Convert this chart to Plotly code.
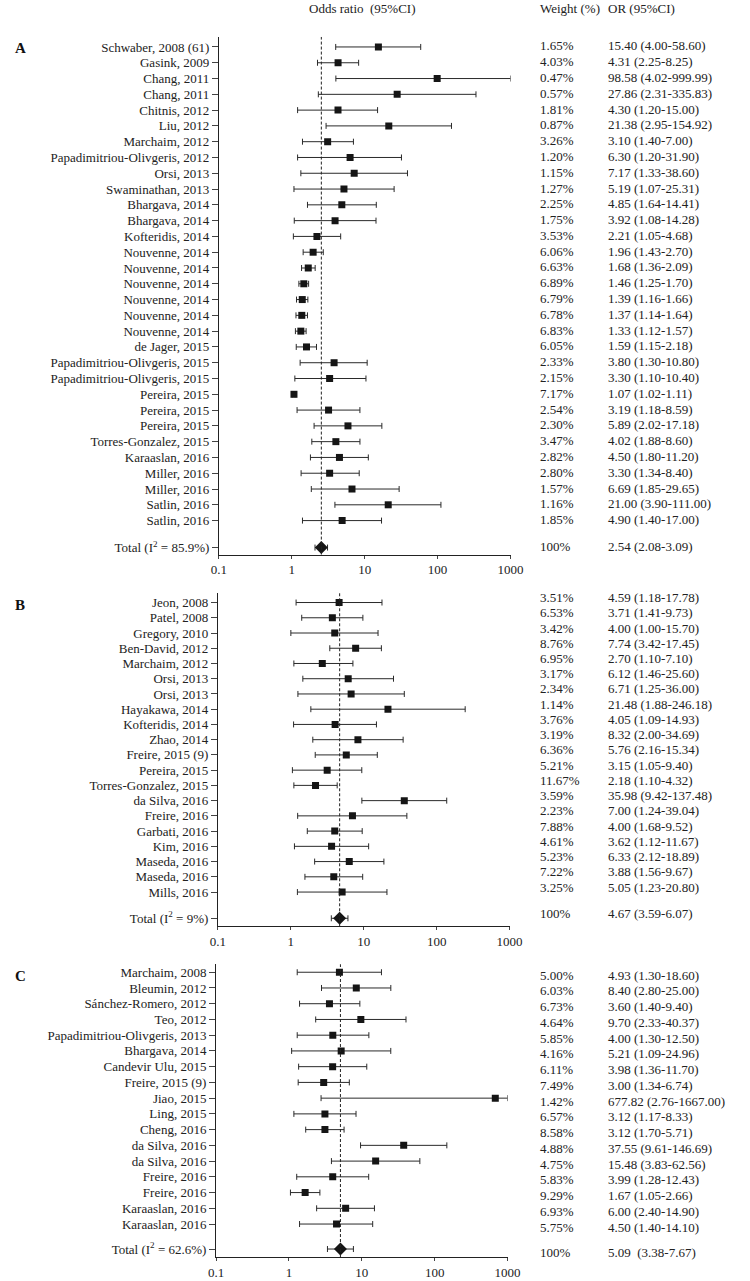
import plotly.graph_objects as go

W, H = 750, 1281
FONT = "Liberation Serif, Times New Roman, serif"

# ── data ─────────────────────────────────────────────────────────────────────
a_study = ["Schwaber, 2008 (61)", "Gasink, 2009", "Chang, 2011", "Chang, 2011", "Chitnis, 2012",
           "Liu, 2012", "Marchaim, 2012", "Papadimitriou-Olivgeris, 2012", "Orsi, 2013",
           "Swaminathan, 2013", "Bhargava, 2014", "Bhargava, 2014", "Kofteridis, 2014",
           "Nouvenne, 2014", "Nouvenne, 2014", "Nouvenne, 2014", "Nouvenne, 2014",
           "Nouvenne, 2014", "Nouvenne, 2014", "de Jager, 2015", "Papadimitriou-Olivgeris, 2015",
           "Papadimitriou-Olivgeris, 2015", "Pereira, 2015", "Pereira, 2015", "Pereira, 2015",
           "Torres-Gonzalez, 2015", "Karaaslan, 2016", "Miller, 2016", "Miller, 2016",
           "Satlin, 2016", "Satlin, 2016"]
a_or = [15.40, 4.31, 98.58, 27.86, 4.30, 21.38, 3.10, 6.30, 7.17, 5.19, 4.85, 3.92, 2.21,
        1.96, 1.68, 1.46, 1.39, 1.37, 1.33, 1.59, 3.80, 3.30, 1.07, 3.19, 5.89, 4.02, 4.50,
        3.30, 6.69, 21.00, 4.90]
a_lo = [4.00, 2.25, 4.02, 2.31, 1.20, 2.95, 1.40, 1.20, 1.33, 1.07, 1.64, 1.08, 1.05,
        1.43, 1.36, 1.25, 1.16, 1.14, 1.12, 1.15, 1.30, 1.10, 1.02, 1.18, 2.02, 1.88, 1.80,
        1.34, 1.85, 3.90, 1.40]
a_hi = [58.60, 8.25, 999.99, 335.83, 15.00, 154.92, 7.00, 31.90, 38.60, 25.31, 14.41, 14.28,
        4.68, 2.70, 2.09, 1.70, 1.66, 1.64, 1.57, 2.18, 10.80, 10.40, 1.11, 8.59, 17.18, 8.60,
        11.20, 8.40, 29.65, 111.00, 17.00]
a_wt = [1.65, 4.03, 0.47, 0.57, 1.81, 0.87, 3.26, 1.20, 1.15, 1.27, 2.25, 1.75, 3.53, 6.06,
        6.63, 6.89, 6.79, 6.78, 6.83, 6.05, 2.33, 2.15, 7.17, 2.54, 2.30, 3.47, 2.82, 2.80,
        1.57, 1.16, 1.85]
a_total = [2.54, 2.08, 3.09]

b_study = ["Jeon, 2008", "Patel, 2008", "Gregory, 2010", "Ben-David, 2012", "Marchaim, 2012",
           "Orsi, 2013", "Orsi, 2013", "Hayakawa, 2014", "Kofteridis, 2014", "Zhao, 2014",
           "Freire, 2015 (9)", "Pereira, 2015", "Torres-Gonzalez, 2015", "da Silva, 2016",
           "Freire, 2016", "Garbati, 2016", "Kim, 2016", "Maseda, 2016", "Maseda, 2016",
           "Mills, 2016"]
b_or = [4.59, 3.71, 4.00, 7.74, 2.70, 6.12, 6.71, 21.48, 4.05, 8.32, 5.76, 3.15, 2.18, 35.98,
        7.00, 4.00, 3.62, 6.33, 3.88, 5.05]
b_lo = [1.18, 1.41, 1.00, 3.42, 1.10, 1.46, 1.25, 1.88, 1.09, 2.00, 2.16, 1.05, 1.10, 9.42,
        1.24, 1.68, 1.12, 2.12, 1.56, 1.23]
b_hi = [17.78, 9.73, 15.70, 17.45, 7.10, 25.60, 36.00, 246.18, 14.93, 34.69, 15.34, 9.40,
        4.32, 137.48, 39.04, 9.52, 11.67, 18.89, 9.67, 20.80]
b_wt = [3.51, 6.53, 3.42, 8.76, 6.95, 3.17, 2.34, 1.14, 3.76, 3.19, 6.36, 5.21, 11.67, 3.59,
        2.23, 7.88, 4.61, 5.23, 7.22, 3.25]
b_total = [4.67, 3.59, 6.07]

c_study = ["Marchaim, 2008", "Bleumin, 2012", "Sánchez-Romero, 2012", "Teo, 2012",
           "Papadimitriou-Olivgeris, 2013", "Bhargava, 2014", "Candevir Ulu, 2015",
           "Freire, 2015 (9)", "Jiao, 2015", "Ling, 2015", "Cheng, 2016", "da Silva, 2016",
           "da Silva, 2016", "Freire, 2016", "Freire, 2016", "Karaaslan, 2016", "Karaaslan, 2016"]
c_or = [4.93, 8.40, 3.60, 9.70, 4.00, 5.21, 3.98, 3.00, 677.82, 3.12, 3.12, 37.55, 15.48,
        3.99, 1.67, 6.00, 4.50]
c_lo = [1.30, 2.80, 1.40, 2.33, 1.30, 1.09, 1.36, 1.34, 2.76, 1.17, 1.70, 9.61, 3.83, 1.28,
        1.05, 2.40, 1.40]
c_hi = [18.60, 25.00, 9.40, 40.37, 12.50, 24.96, 11.70, 6.74, 1667.00, 8.33, 5.71, 146.69,
        62.56, 12.43, 2.66, 14.90, 14.10]
c_wt = [5.00, 6.03, 6.73, 4.64, 5.85, 4.16, 6.11, 7.49, 1.42, 6.57, 8.58, 4.88, 4.75, 5.83,
        9.29, 6.93, 5.75]
c_total = [5.09, 3.38, 7.67]

x_ticks = [0.1, 1, 10, 100, 1000]
x_ticktext = ["0.1", "1", "10", "100", "1000"]

# ── panel geometry (pixels) ──────────────────────────────────────────────────
panels = [
    dict(key="A", study=a_study, orr=a_or, lo=a_lo, hi=a_hi, wt=a_wt, tot=a_total,
         i2="85.9%", tot_txt="2.54 (2.08-3.09)",
         top=37, row0=47, step=15.8, total_px=548, axis_px=555, x0=217, x1=517,
         txt_shift=1, letter_y=48),
    dict(key="B", study=b_study, orr=b_or, lo=b_lo, hi=b_hi, wt=b_wt, tot=b_total,
         i2="9%", tot_txt="4.67 (3.59-6.07)",
         top=593, row0=603, step=15.25, total_px=919, axis_px=927, x0=216, x1=516,
         txt_shift=5, letter_y=605),
    dict(key="C", study=c_study, orr=c_or, lo=c_lo, hi=c_hi, wt=c_wt, tot=c_total,
         i2="62.6%", tot_txt="5.09&nbsp; (3.38-7.67)",
         top=965, row0=973, step=15.75, total_px=1250, axis_px=1258, x0=214, x1=514,
         txt_shift=-3, letter_y=977),
]

fig = go.Figure()
annotations = []
shapes = []

for k, p in enumerate(panels, start=1):
    xa = "x" if k == 1 else f"x{k}"
    ya = "y" if k == 1 else f"y{k}"
    n = len(p["study"])
    rows = list(range(n))
    y_total = (p["total_px"] - p["row0"]) / p["step"]
    y_bottom = (p["axis_px"] - p["row0"]) / p["step"]
    y_top = (p["top"] - p["row0"]) / p["step"]

    hi_draw = [min(h, 1000) for h in p["hi"]]
    fig.add_trace(go.Scatter(
        x=p["orr"], y=rows, mode="markers", xaxis=xa, yaxis=ya, showlegend=False,
        marker=dict(symbol="square", size=7, color="#151515"),
        error_x=dict(type="data", symmetric=False,
                     array=[h - o for h, o in zip(hi_draw, p["orr"])],
                     arrayminus=[o - l for o, l in zip(p["orr"], p["lo"])],
                     color="#2a2a2a", thickness=1, width=3),
    ))
    t_or, t_lo, t_hi = p["tot"]
    fig.add_trace(go.Scatter(
        x=[t_or], y=[y_total], mode="markers", xaxis=xa, yaxis=ya, showlegend=False,
        marker=dict(symbol="diamond", size=10, color="#151515"),
        error_x=dict(type="data", symmetric=False, array=[t_hi - t_or], arrayminus=[t_or - t_lo],
                     color="#2a2a2a", thickness=1, width=3),
    ))

    dom_x = [p["x0"] / W, p["x1"] / W]
    dom_y = [1 - p["axis_px"] / H, 1 - p["top"] / H]
    fig.layout[("xaxis" if k == 1 else f"xaxis{k}")] = dict(
        type="log", range=[-1, 3], domain=dom_x, anchor=ya,
        tickvals=x_ticks, ticktext=x_ticktext, ticks="outside", ticklen=3,
        showline=True, linecolor="#222", linewidth=1, showgrid=False, zeroline=False,
        tickfont=dict(family=FONT, size=13, color="#222"),
    )
    fig.layout[("yaxis" if k == 1 else f"yaxis{k}")] = dict(
        range=[y_bottom, y_top], domain=dom_y, anchor=xa,
        tickvals=rows + [y_total],
        ticktext=p["study"] + [f"Total (I<sup>2</sup> = {p['i2']})"],
        ticks="outside", ticklen=6, showline=True, linecolor="#222", linewidth=1,
        showgrid=False, zeroline=False,
        tickfont=dict(family=FONT, size=13, color="#222"),
    )

    # pooled estimate reference line
    shapes.append(dict(type="line", xref=xa, yref=f"{ya} domain", x0=t_or, x1=t_or, y0=0, y1=1,
                       line=dict(color="#222", width=1, dash="3px,2px")))

    # right-hand columns
    col_font = dict(family=FONT, size=13, color="#222")
    for i in rows:
        annotations.append(dict(x=545 / W, xref="paper", y=i, yref=ya, xanchor="left",
                                yanchor="middle", text=f"{p['wt'][i]:.2f}%", showarrow=False,
                                yshift=p["txt_shift"], font=col_font))
        annotations.append(dict(x=615 / W, xref="paper", y=i, yref=ya, xanchor="left",
                                yanchor="middle",
                                text=f"{p['orr'][i]:.2f} ({p['lo'][i]:.2f}-{p['hi'][i]:.2f})",
                                showarrow=False, yshift=p["txt_shift"], font=col_font))
    annotations.append(dict(x=545 / W, xref="paper", y=y_total, yref=ya, xanchor="left",
                            yanchor="middle", text="100%", showarrow=False,
                            yshift=p["txt_shift"], font=col_font))
    annotations.append(dict(x=615 / W, xref="paper", y=y_total, yref=ya, xanchor="left",
                            yanchor="middle", text=p["tot_txt"], showarrow=False,
                            yshift=p["txt_shift"], font=col_font))

    # panel letter
    annotations.append(dict(x=5 / W, xref="paper", y=1 - p["letter_y"] / H, yref="paper",
                            xanchor="left", yanchor="middle", text=f"<b>{p['key']}</b>",
                            showarrow=False, font=dict(family=FONT, size=15, color="#111")))

# column headers
for txt, xpx, anchor in [("Odds ratio&nbsp; (95%CI)", 365, "center"),
                         ("Weight (%)", 545, "left"), ("OR (95%CI)", 615, "left")]:
    annotations.append(dict(x=xpx / W, xref="paper", y=1 - 9 / H, yref="paper",
                            xanchor=anchor, yanchor="middle", text=txt, showarrow=False,
                            font=dict(family=FONT, size=13, color="#222")))

fig.update_layout(
    width=W, height=H,
    margin=dict(l=0, r=0, t=0, b=0),
    paper_bgcolor="white", plot_bgcolor="white",
    annotations=annotations, shapes=shapes,
    showlegend=False,
)

# the page body has a default 8px margin; drop it so the figure sits at the window origin
fig.write_html("out.html", config={"displayModeBar": False},
               post_script="document.body.style.margin='0';")
